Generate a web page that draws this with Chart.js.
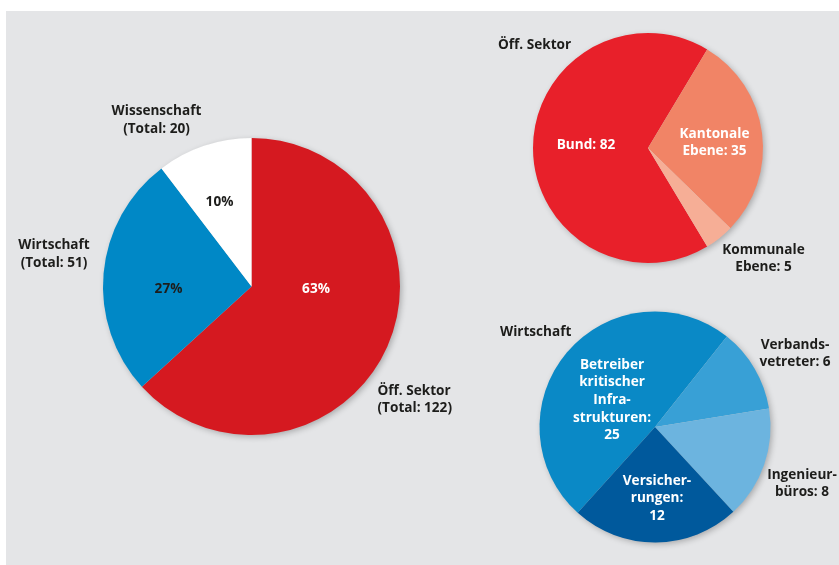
<!DOCTYPE html>
<html lang="de">
<head>
<meta charset="utf-8">
<title>Befragte nach Sektor</title>
<script src="https://cdn.jsdelivr.net/npm/chart.js@4/dist/chart.umd.min.js"></script>
<style>
    html, body { margin: 0; padding: 0; background: #ffffff; }
    #bühne { position: relative; width: 839px; height: 565px; overflow: hidden; }
    #panel { position: absolute; left: 6px; top: 11px; right: 0; bottom: 0; background: #e4e5e7; }
    #bühne canvas { position: absolute; left: 0; top: 0; }
</style>
</head>
<body>
<div id="bühne">
    <div id="panel"></div>
    <canvas id="chart-haupt" width="839" height="565"></canvas>
    <canvas id="chart-oeff" width="839" height="565"></canvas>
    <canvas id="chart-wirt" width="839" height="565"></canvas>
</div>

<script>
// ========================================
// Daten
// ========================================

// Gesamt (grosser Kreis)
const hauptKategorien = ['Öff. Sektor', 'Wirtschaft', 'Wissenschaft'];
const hauptWerte = [122, 51, 20];
const hauptProzent = ['63%', '27%', '10%'];

// Öffentlicher Sektor
const oeffKategorien = ['Bund', 'Kantonale Ebene', 'Kommunale Ebene'];
const oeffWerte = [82, 35, 5];

// Wirtschaft
const wirtKategorien = ['Betreiber kritischer Infrastrukturen', 'Verbandsvertreter', 'Ingenieurbüros', 'Versicherungen'];
const wirtWerte = [25, 6, 8, 12];

// ========================================
// Darstellung
// ========================================

const SCHRIFT = 'bold 13.6px "Open Sans", "DejaVu Sans", sans-serif';
const ZEILE = 17.6;
const DUNKEL = '#1d1d1b';
const WEISS = '#ffffff';

// Padding so berechnen, dass der Kreismittelpunkt an (cx, cy) liegt
function paddingFuer(cx, cy, w = 839, h = 565) {
    return {
        left: Math.max(2 * cx - w, 0),
        right: Math.max(w - 2 * cx, 0),
        top: Math.max(2 * cy - h, 0),
        bottom: Math.max(h - 2 * cy, 0)
    };
}

// Schatten unter dem Kreis
const schattenPlugin = {
    id: 'schatten',
    beforeDatasetsDraw(chart) {
        const arc = chart.getDatasetMeta(0).data[0];
        if (!arc) return;
        const ctx = chart.ctx;
        ctx.save();
        ctx.shadowColor = 'rgba(0,0,0,0.28)';
        ctx.shadowBlur = 6;
        ctx.shadowOffsetX = 2;
        ctx.shadowOffsetY = 2;
        ctx.fillStyle = '#cccccc';
        ctx.beginPath();
        ctx.arc(arc.x, arc.y, arc.outerRadius - 0.5, 0, Math.PI * 2);
        ctx.fill();
        ctx.restore();
    }
};

// Beschriftungen relativ zum Kreismittelpunkt
const beschriftungPlugin = {
    id: 'beschriftung',
    afterDatasetsDraw(chart, args, opts) {
        const arc = chart.getDatasetMeta(0).data[0];
        if (!arc || !opts.texte) return;
        const ctx = chart.ctx;
        ctx.save();
        ctx.font = SCHRIFT;
        ctx.textBaseline = 'middle';
        opts.texte.forEach(t => {
            ctx.fillStyle = t.farbe || DUNKEL;
            ctx.textAlign = t.ausrichtung || 'center';
            t.zeilen.forEach((z, i) => {
                ctx.fillText(z, arc.x + t.dx, arc.y + t.dy + i * ZEILE);
            });
        });
        ctx.restore();
    }
};

function erstelleKreis(id, kategorien, werte, farben, rotation, radius, mitte, texte) {
    return new Chart(document.getElementById(id), {
        type: 'pie',
        data: {
            labels: kategorien,
            datasets: [{
                data: werte,
                backgroundColor: farben,
                borderWidth: 0,
                radius: radius
            }]
        },
        options: {
            responsive: false,
            animation: false,
            rotation: rotation,
            layout: { padding: paddingFuer(mitte[0], mitte[1]) },
            plugins: {
                legend: { display: false },
                tooltip: { enabled: false },
                beschriftung: { texte: texte }
            }
        },
        plugins: [schattenPlugin, beschriftungPlugin]
    });
}

// Grosser Kreis
erstelleKreis('chart-haupt', hauptKategorien, hauptWerte,
    ['#d51920', '#0088c6', '#ffffff'], 0, 148.5, [251.5, 286.5], [
        { zeilen: [hauptProzent[0]], dx: 64.5, dy: 2.5, farbe: WEISS },
        { zeilen: [hauptProzent[1]], dx: -83, dy: 2.5 },
        { zeilen: [hauptProzent[2]], dx: -32, dy: -84 },
        { zeilen: ['Öff. Sektor', '(Total: ' + hauptWerte[0] + ')'], dx: 126, dy: 104.5, ausrichtung: 'left' },
        { zeilen: ['Wirtschaft', '(Total: ' + hauptWerte[1] + ')'], dx: -197.5, dy: -41 },
        { zeilen: ['Wissenschaft', '(Total: ' + hauptWerte[2] + ')'], dx: -95, dy: -175 }
    ]);

// Öffentlicher Sektor
erstelleKreis('chart-oeff', oeffKategorien, oeffWerte,
    ['#e8202a', '#f18466', '#f6ae96'], 149, 115, [648, 148], [
        { zeilen: ['Bund: ' + oeffWerte[0]], dx: -62, dy: -3, farbe: WEISS },
        { zeilen: ['Kantonale', 'Ebene: ' + oeffWerte[1]], dx: 66.5, dy: -14, farbe: WEISS },
        { zeilen: ['Kommunale', 'Ebene: ' + oeffWerte[2]], dx: 115.5, dy: 102 },
        { zeilen: ['Öff. Sektor'], dx: -150, dy: -103, ausrichtung: 'left' }
    ]);

// Wirtschaft
erstelleKreis('chart-wirt', wirtKategorien, wirtWerte,
    ['#0a89c6', '#38a0d6', '#6cb4df', '#00599c'], 222, 115.5, [655, 427], [
        { zeilen: ['Betreiber', 'kritischer', 'Infra-', 'strukturen:', String(wirtWerte[0])], dx: -43, dy: -62, farbe: WEISS },
        { zeilen: ['Versicher-', 'rungen:', String(wirtWerte[3])], dx: 2, dy: 54, farbe: WEISS },
        { zeilen: ['Verbands-', 'vetreter: ' + wirtWerte[1]], dx: 140, dy: -82 },
        { zeilen: ['Ingenieur-', 'büros: ' + wirtWerte[2]], dx: 147, dy: 48 },
        { zeilen: ['Wirtschaft'], dx: -155, dy: -95, ausrichtung: 'left' }
    ]);
</script>
</body>
</html>
